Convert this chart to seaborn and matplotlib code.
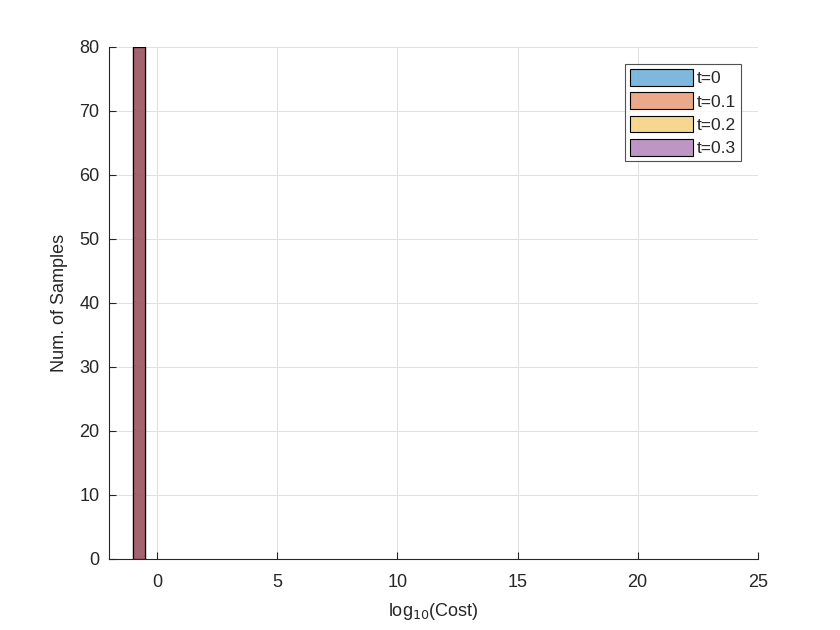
import pandas as pd
import matplotlib.pyplot as plt
import seaborn as sns
from matplotlib.patches import Patch
from matplotlib.colors import to_rgba

# histogram data: every sample of each t falls in the same bin
labels = ['t=0', 't=0.1', 't=0.2', 't=0.3']
bin_edges = [-1.0, -0.5]
bin_centers = [-0.75]
counts = [[80], [80], [80], [80]]

colors = ['#0072BD', '#D95319', '#EDB120', '#7E2F8E']
face_alpha = 0.5

sns.set_style('white')
plt.rcParams['font.family'] = ['Liberation Sans', 'DejaVu Sans']

fig = plt.figure(figsize=(8.4, 6.3), dpi=100)
ax = fig.add_axes([0.13, 0.1127, 0.772, 0.8127])

for lab, cnt, col in zip(labels, counts, colors):
    df = pd.DataFrame({'log_cost': bin_centers, 'n': cnt})
    sns.histplot(data=df, x='log_cost', weights='n', bins=bin_edges,
                 facecolor=to_rgba(col, face_alpha), edgecolor='black',
                 linewidth=0.8, ax=ax)

ax.set_xlim(-2, 25)
ax.set_ylim(0, 80)
ax.set_xticks(range(0, 26, 5))
ax.set_yticks(range(0, 81, 10))
ax.grid(True, color='#e0e0e0', linewidth=0.7)
ax.set_axisbelow(True)
for s in ['top', 'right']:
    ax.spines[s].set_visible(False)
for s in ['left', 'bottom']:
    ax.spines[s].set_color('#262626')
    ax.spines[s].set_linewidth(0.8)
ax.tick_params(direction='in', length=5, width=0.8, colors='#262626',
               labelsize=13, left=True, bottom=True)
ax.tick_params(axis='x', pad=11)
ax.tick_params(axis='y', pad=7)

ax.set_xlabel('log$_{10}$(Cost)', fontsize=13, color='#262626', labelpad=7)
ax.set_ylabel('Num. of Samples', fontsize=13, color='#262626', labelpad=8)

handles = [Patch(facecolor=to_rgba(c, face_alpha), edgecolor='black', linewidth=0.8)
           for c in colors]
leg = ax.legend(handles, labels, loc='upper right', bbox_to_anchor=(0.974, 0.967),
                fontsize=12.5, frameon=True, fancybox=False, handlelength=3.6,
                handleheight=1.1, handletextpad=0.2, labelspacing=0.35,
                borderpad=0.3, borderaxespad=0)
leg.get_frame().set_edgecolor('#262626')
leg.get_frame().set_linewidth(0.8)

fig.savefig('out.png', dpi=100)
